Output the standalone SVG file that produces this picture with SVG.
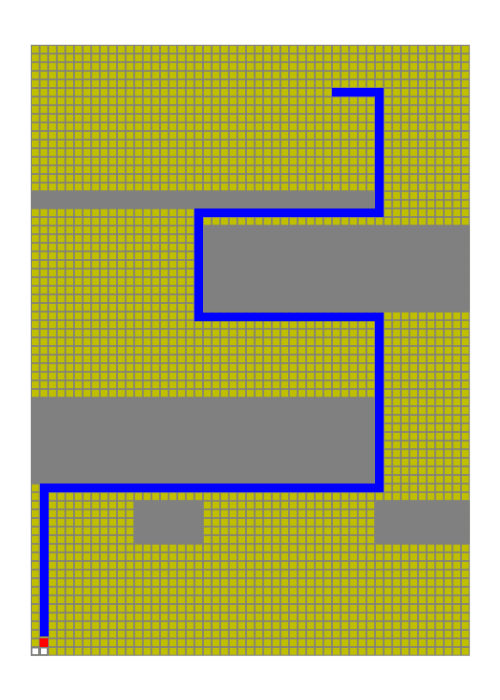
<svg xmlns="http://www.w3.org/2000/svg" width="500" height="700" viewBox="0 0 500 700">
  <defs>
    <pattern id="cell" patternUnits="userSpaceOnUse" x="31" y="45" width="8.6" height="8.6">
      <rect x="0" y="0" width="8.6" height="8.6" fill="#808080"/>
      <rect x="0.8" y="0.8" width="7" height="7" fill="#BFBF00"/>
    </pattern>
    <style>
      .obstacle { fill: #808080; }
      .start { fill: #FFFFFF; stroke: #808080; stroke-width: 1.5; }
    </style>
  </defs>
  <rect x="0" y="0" width="500" height="700" fill="#FFFFFF"/>
  <g id="grid">
    <rect x="30.5" y="44.5" width="439.6" height="611.6" fill="#C8C8C8"/>
    <rect x="31" y="45" width="438.6" height="610.6" fill="url(#cell)"/>
  </g>
  <g id="obstacles">
    <rect class="obstacle" x="31" y="191.2" width="344" height="17.2"/>
    <rect class="obstacle" x="203" y="225.6" width="266.6" height="86"/>
    <rect class="obstacle" x="31" y="397.6" width="344" height="86"/>
    <rect class="obstacle" x="134.2" y="500.8" width="68.8" height="43"/>
    <rect class="obstacle" x="375" y="500.8" width="94.6" height="43"/>
  </g>
  <g id="connectors">
    <polyline id="route" points="336.3,92.3 379.3,92.3 379.3,212.7 198.7,212.7 198.7,316.9 379.3,316.9 379.3,487.9 44.3,487.9 44.3,632.1" fill="none" stroke="#0000FF" stroke-width="8.6" stroke-linecap="square" stroke-linejoin="miter"/>
  </g>
  <g id="goal">
    <rect x="39.6" y="638.4" width="8.6" height="8.6" fill="#FF0000"/>
  </g>
  <g id="start-cells">
    <rect class="start" x="31.7" y="647.7" width="7.2" height="7.2"/>
    <rect class="start" x="40.3" y="647.7" width="7.2" height="7.2"/>
  </g>
</svg>
